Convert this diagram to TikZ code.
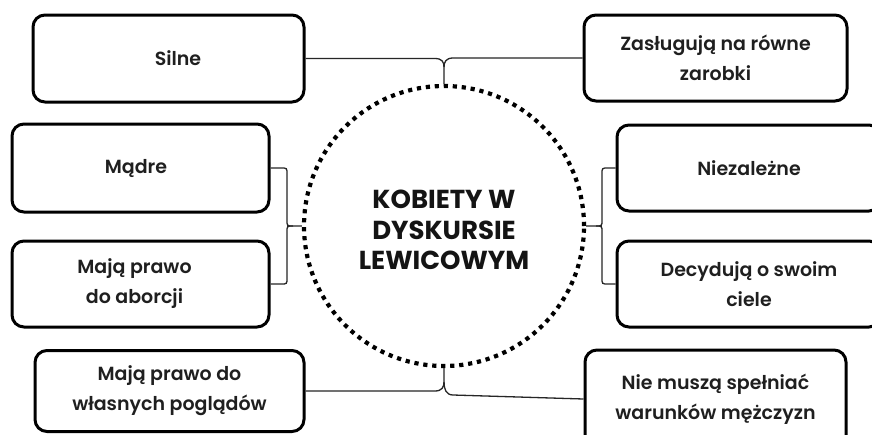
\documentclass[tikz,border=0pt]{standalone}
\usepackage{fontspec}
\setmainfont{Poppins}[BoldFont={Poppins SemiBold}]
\newfontfamily\hubfont{Poppins}
\begin{document}
\begin{tikzpicture}[x=1pt,y=-1pt,
  box/.style={draw=black, line width=3pt, rounded corners=12pt, align=center,
    font=\bfseries\fontsize{19}{30}\selectfont, text=black!88, inner sep=0pt},
  hub/.style={circle, draw=black, line width=4.2pt, dash pattern=on 4.2pt off 4.8pt,
    minimum size=280pt, inner sep=0pt},
  hubtext/.style={align=center, inner sep=0pt,
    font=\hubfont\bfseries\fontsize{26}{30.5}\selectfont, text=black!92},
  link/.style={line width=1.3pt, draw=black!85}]
\useasboundingbox (0,0) rectangle (872,434);
\clip (0,0) rectangle (872,434);
\fill[white] (0,0) rectangle (872,434);
% boxes
\node[box, minimum width=271pt, minimum height=87pt] (s) at (168.5,58.5) {\hspace*{19pt}Silne};
\node[box, minimum width=263pt, minimum height=86pt] (z) at (715.5,58) {Zasługują na równe\\zarobki};
\node[box, minimum width=257pt, minimum height=88pt] (m) at (140.5,168) {Mądre\hspace*{9pt}};
\node[box, minimum width=264pt, minimum height=86pt] (n) at (749,168) {Niezależne};
\node[box, minimum width=257pt, minimum height=86pt] (a) at (140.5,284) {Mają prawo\hspace*{12pt}\\do aborcji\hspace*{12pt}};
\node[box, minimum width=264pt, minimum height=86pt] (d) at (749,284) {Decydują o swoim\\ciele};
\node[box, minimum width=269pt, minimum height=81pt] (w) at (169.5,391) {Mają prawo do\\własnych poglądów};
\node[box, minimum width=261pt, minimum height=98pt] (k) at (715.5,399) {Nie muszą spełniać\\warunków mężczyzn};
% hub
\node[hub] (c) at (444,226) {};
\node[hubtext] (ct) at (444,230) {KOBIETY W\\DYSKURSIE\\LEWICOWYM};
% top brace
\draw[link] (s.east) -- (435,58.5) .. controls (442,58.5) and (444,62) .. (444,67) -- (c.north);
\draw[link] (z.west) -- (453,58) .. controls (446,58) and (444,62) .. (444,67);
% left brace
\draw[link] (m.east) -- (281,168) .. controls (287,168) .. (287,174) -- (287,220) .. controls (287,226) .. (293,226) -- (c.west);
\draw[link] (a.east) -- (281,284) .. controls (287,284) .. (287,278) -- (287,232) .. controls (287,226) .. (293,226);
% right brace
\draw[link] (n.west) -- (608,168) .. controls (602,168) .. (602,174) -- (602,220) .. controls (602,226) .. (596,226) -- (c.east);
\draw[link] (d.west) -- (608,284) .. controls (602,284) .. (602,278) -- (602,232) .. controls (602,226) .. (596,226);
% bottom brace
\draw[link] (w.east) -- (435,391) .. controls (442,391) and (444,387) .. (444,382) -- (c.south);
\draw[link] (k.west) -- (453,395) .. controls (446,395) and (444,389) .. (444,382);
\end{tikzpicture}
\end{document}
